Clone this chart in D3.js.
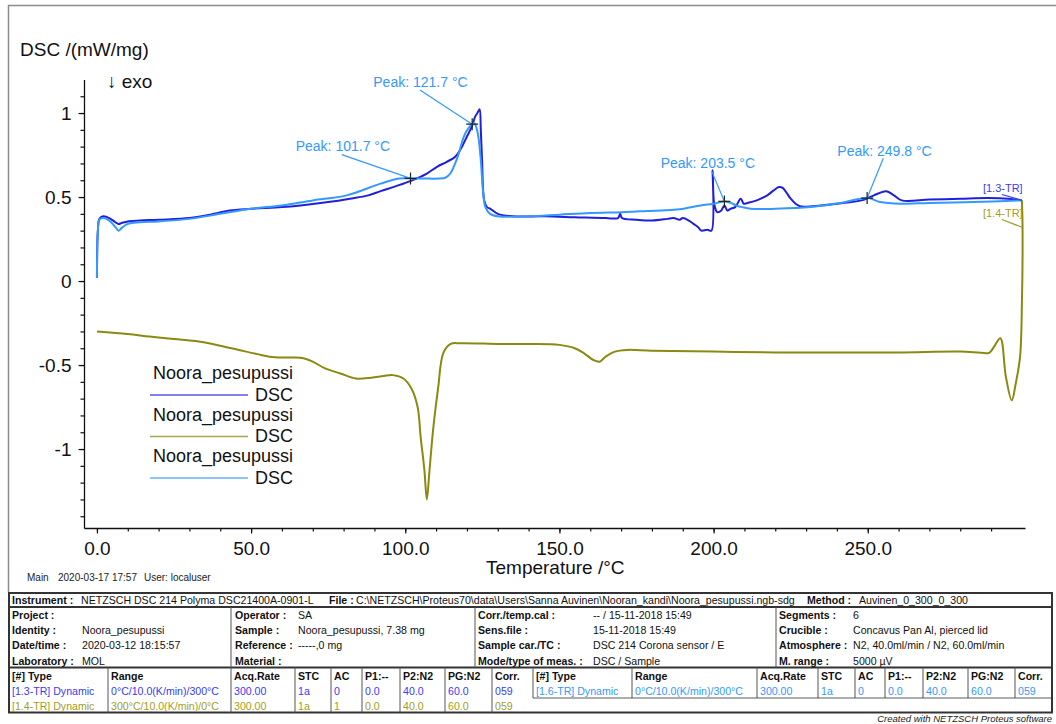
<!DOCTYPE html>
<html><head><meta charset="utf-8">
<script src="https://cdn.jsdelivr.net/npm/d3@7/dist/d3.min.js"></script>
<style>
body{margin:0;background:#fff;}
svg{display:block;font-family:"Liberation Sans",Arial,Helvetica,sans-serif;}
</style></head><body>
<svg id="c" width="1056" height="724"></svg>
<script>
// ---------------- DATA ----------------
// Segment 1.3-TR : heating 0 -> 300 °C (dark blue)
const heat1T = [0,0.3,0.8,2,4,6,7,8,10,14,20,30,38,43,50,60,66,75,82,88,92,97,101.6,107,110.3,113.5,116.2,118.4,120,121.6,122.7,123.4,124.1,124.5,124.9,125.6,126.5,127.6,130,135,145,155,165,169,169.7,170.3,175,180,185,187,189,190,192,193.5,195,196,198,199.3,199.7,200.2,201.2,202.5,203.5,204.5,205.5,207,208.8,209.8,211,214,217.4,219.5,221.2,222.4,225,226.6,228,232,240,248,250,252,256,258.5,261,270,280,289,295.5,300];
const heat1V = [0.02,0.30,0.37,0.385,0.375,0.35,0.34,0.345,0.355,0.36,0.365,0.375,0.40,0.42,0.43,0.44,0.45,0.47,0.49,0.51,0.535,0.565,0.595,0.64,0.68,0.71,0.74,0.80,0.86,0.92,0.98,1.00,1.022,0.90,0.72,0.48,0.44,0.43,0.40,0.385,0.385,0.38,0.375,0.375,0.40,0.375,0.365,0.36,0.37,0.375,0.365,0.375,0.36,0.34,0.32,0.30,0.305,0.30,0.66,0.46,0.41,0.42,0.45,0.42,0.43,0.44,0.49,0.46,0.465,0.48,0.51,0.54,0.56,0.555,0.49,0.46,0.445,0.445,0.46,0.48,0.494,0.51,0.535,0.51,0.48,0.485,0.49,0.494,0.49,0.48];

// Segment 1.4-TR : cooling 300 -> 0 °C (olive)
const coolT = [300,300.2,300,299.4,298,296.7,294.8,293,291,289.4,286.7,280,260,240,220,200,180,172,168,165,163,161,158,155,150,140,131,118,114.6,112.3,110.7,109,107.8,107,106.2,105,104,102,99.4,96,93,89,84,79,74,70,67,64,60,56,52,46,40,33,25,17,10,0];
const coolV = [0.48,0.32,-0.13,-0.45,-0.61,-0.71,-0.57,-0.34,-0.39,-0.427,-0.427,-0.42,-0.425,-0.425,-0.425,-0.42,-0.415,-0.41,-0.42,-0.45,-0.48,-0.47,-0.43,-0.40,-0.38,-0.375,-0.375,-0.37,-0.375,-0.43,-0.63,-0.89,-1.14,-1.30,-1.125,-0.93,-0.75,-0.64,-0.58,-0.56,-0.565,-0.575,-0.58,-0.55,-0.52,-0.48,-0.46,-0.455,-0.455,-0.45,-0.435,-0.41,-0.385,-0.36,-0.345,-0.33,-0.315,-0.30];

// Segment 1.6-TR : second heating 0 -> 300 °C (light blue)
const heat2T = [0,0.3,0.8,2,4,6,7,8,10,14,20,30,40,50,60,70,81,92,98,101.7,106,111,113,114.6,117,119,120.5,121.7,122.4,123.4,124.4,125.3,126,127.5,130,140,150,160,170,176,183,189,195.8,200,203.5,205.5,207.8,209.3,212,220,231.5,241,250,254,260.7,270,284,300];
const heat2V = [0.02,0.30,0.365,0.375,0.36,0.32,0.30,0.315,0.34,0.35,0.355,0.37,0.40,0.43,0.45,0.48,0.51,0.58,0.61,0.611,0.61,0.61,0.615,0.64,0.74,0.86,0.91,0.934,0.94,0.89,0.74,0.52,0.44,0.40,0.385,0.385,0.395,0.405,0.41,0.415,0.42,0.427,0.45,0.46,0.474,0.465,0.447,0.44,0.43,0.43,0.44,0.465,0.494,0.47,0.46,0.465,0.47,0.48];

// Peak annotations (on segment 1.6-TR)
const peakTemps  = [101.7, 121.7, 203.5, 249.8];
const peakValues = [0.611, 0.934, 0.474, 0.494];

// Axis ticks
const xMajorTicks = [0, 50, 100, 150, 200, 250];
const xTickLabels = ["0.0", "50.0", "100.0", "150.0", "200.0", "250.0"];
const yMajorTicks = [-1, -0.5, 0, 0.5, 1];
const yTickLabels = ["-1", "-0.5", "0", "0.5", "1"];

// Legend
const legendNames = ["Noora_pesupussi", "Noora_pesupussi", "Noora_pesupussi"];
const legendSignals = ["DSC", "DSC", "DSC"];

// Info table
const infoRow = [["Instrument :", "NETZSCH DSC 214 Polyma DSC21400A-0901-L"], ["File :", "C:\\NETZSCH\\Proteus70\\data\\Users\\Sanna Auvinen\\Nooran_kandi\\Noora_pesupussi.ngb-sdg"], ["Method :", "Auvinen_0_300_0_300"]];
const infoCol1 = [["Project :", ""], ["Identity :", "Noora_pesupussi"], ["Date/time :", "2020-03-12 18:15:57"], ["Laboratory :", "MOL"]];
const infoCol2 = [["Operator :", "SA"], ["Sample :", "Noora_pesupussi, 7.38 mg"], ["Reference :", "-----,0 mg"], ["Material :", ""]];
const infoCol3 = [["Corr./temp.cal :", "-- / 15-11-2018 15:49"], ["Sens.file :", "15-11-2018 15:49"], ["Sample car./TC :", "DSC 214 Corona sensor / E"], ["Mode/type of meas. :", "DSC / Sample"]];
const infoCol4 = [["Segments :", "6"], ["Crucible :", "Concavus Pan Al, pierced lid"], ["Atmosphere :", "N2, 40.0ml/min / N2, 60.0ml/min"], ["M. range :", "5000 µV"]];
const segHeader = ["[#] Type", "Range", "Acq.Rate", "STC", "AC", "P1:--", "P2:N2", "PG:N2", "Corr."];
const seg13 = ["[1.3-TR] Dynamic", "0°C/10.0(K/min)/300°C", "300.00", "1a", "0", "0.0", "40.0", "60.0", "059"];
const seg14 = ["[1.4-TR] Dynamic", "300°C/10.0(K/min)/0°C", "300.00", "1a", "1", "0.0", "40.0", "60.0", "059"];
const seg16 = ["[1.6-TR] Dynamic", "0°C/10.0(K/min)/300°C", "300.00", "1a", "0", "0.0", "40.0", "60.0", "059"];

// ---------------- DRAW ----------------
const C_DARK = "#1f1fdc", C_OLIVE = "#8a8a10", C_LIGHT = "#3399ff";
const C_DARK_T = "#3b3bf5", C_OLIVE_T = "#a39d24";
const svg = d3.select("#c");

// outer frame
svg.append("path").attr("d", "M8.5,592 V5.5 H1056").attr("fill", "none")
  .attr("stroke", "#8c8c8c").attr("stroke-width", 1.5);

const x = d3.scaleLinear().domain([-4.2, 301]).range([84, 1025]);
const y = d3.scaleLinear().domain([-1.47, 1.2]).range([528, 79.44]);

// y axis
const yMinor = d3.range(-14, 12).map(d => d / 10);
svg.append("g").attr("transform", "translate(84,0)")
  .call(d3.axisLeft(y).tickValues(yMinor).tickSize(3.5).tickFormat("").tickSizeOuter(0))
  .call(g => g.select(".domain").remove());
const yAx = svg.append("g").attr("transform", "translate(84,0)")
  .call(d3.axisLeft(y).tickValues(yMajorTicks).tickSize(5.5).tickPadding(7).tickSizeOuter(0)
    .tickFormat((d, i) => yTickLabels[i]));
yAx.selectAll("text").attr("font-size", 19).attr("fill", "#111").attr("font-family", null);
yAx.selectAll("line,path").attr("stroke", "#111").attr("stroke-width", 1.3);

// x axis
const xMinor = d3.range(0, 300, 10);
svg.append("g").attr("transform", "translate(0,528)")
  .call(d3.axisBottom(x).tickValues(xMinor).tickSize(3.5).tickFormat("").tickSizeOuter(0))
  .call(g => g.select(".domain").remove());
const xAx = svg.append("g").attr("transform", "translate(0,528)")
  .call(d3.axisBottom(x).tickValues(xMajorTicks).tickSize(5.5).tickPadding(8).tickSizeOuter(0)
    .tickFormat((d, i) => xTickLabels[i]));
xAx.selectAll("text").attr("font-size", 19).attr("fill", "#111").attr("font-family", null);
xAx.selectAll("line,path").attr("stroke", "#111").attr("stroke-width", 1.3);
svg.selectAll(".tick line").attr("stroke", "#111").attr("stroke-width", 1.2);

// axis titles
svg.append("text").attr("x", 20).attr("y", 56).attr("font-size", 19).attr("fill", "#111").text("DSC /(mW/mg)");
svg.append("text").attr("x", 107).attr("y", 88).attr("font-size", 19).attr("fill", "#111").text("↓ exo");
svg.append("text").attr("x", 486).attr("y", 574).attr("font-size", 19).attr("fill", "#111").text("Temperature /°C");

// curves
const line = d3.line().x(d => x(d[0])).y(d => y(d[1])).curve(d3.curveCatmullRom.alpha(0.5));
const series = [
  { t: heat1T, v: heat1V, c: C_DARK },
  { t: coolT, v: coolV, c: C_OLIVE },
  { t: heat2T, v: heat2V, c: C_LIGHT }
];
series.forEach(s => {
  svg.append("path").datum(s.t.map((t, i) => [t, s.v[i]]))
    .attr("d", line).attr("fill", "none").attr("stroke", s.c)
    .attr("stroke-width", 2).attr("stroke-linejoin", "round");
});

// peak annotations
const peakLayout = [
  { tx: -114.8, ty: -27.7, lx: -68.8, ly: -23.7 },
  { tx: -98.9, ty: -36.8, lx: -52.2, ly: -34.1 },
  { tx: -63.7, ty: -33.7, lx: -12.7, ly: -30.3 },
  { tx: -29.8, ty: -42, lx: 16.2, ly: -39.7 }
];
peakTemps.forEach((t, i) => {
  const px = x(t), py = y(peakValues[i]), L = peakLayout[i];
  svg.append("line").attr("x1", px + L.lx).attr("y1", py + L.ly).attr("x2", px).attr("y2", py)
    .attr("stroke", C_LIGHT).attr("stroke-width", 1.2);
  svg.append("path").attr("d", `M${px - 6},${py}H${px + 6}M${px},${py - 6}V${py + 6}`)
    .attr("stroke", "#222").attr("stroke-width", 1.2);
  svg.append("text").attr("x", px + L.tx).attr("y", py + L.ty).attr("font-size", 14)
    .attr("fill", C_LIGHT).text(`Peak: ${t.toFixed(1)} °C`);
});

// segment end labels
const endX = x(300);
[[seg13[0].slice(0, 8), C_DARK_T, 192, heat1V[heat1V.length - 1]], [seg14[0].slice(0, 8), C_OLIVE_T, 217, coolV[1]]].forEach(([lab, col, by, v]) => {
  svg.append("text").attr("x", endX - 39).attr("y", by).attr("font-size", 11).attr("fill", col).text(lab);
  svg.append("line").attr("x1", endX - 20).attr("y1", by + 2.5).attr("x2", endX).attr("y2", y(v))
    .attr("stroke", col).attr("stroke-width", 1.2);
});

// legend
const legColors = [C_DARK, C_OLIVE, C_LIGHT];
legendNames.forEach((n, i) => {
  const by = 379 + i * 41.5;
  svg.append("text").attr("x", 293).attr("y", by).attr("text-anchor", "end").attr("font-size", 18).attr("fill", "#111").text(n);
  svg.append("text").attr("x", 293).attr("y", by + 21.5).attr("text-anchor", "end").attr("font-size", 18).attr("fill", "#111").text(legendSignals[i]);
  svg.append("line").attr("x1", 150).attr("x2", 248).attr("y1", by + 16).attr("y2", by + 16)
    .attr("stroke", legColors[i]).attr("stroke-width", 1.5).attr("opacity", 0.75);
});

// footer line
[["Main", 27], ["2020-03-17 17:57", 58], ["User: localuser", 144]].forEach(([s, xx]) => {
  svg.append("text").attr("x", xx).attr("y", 581).attr("font-size", 10).attr("fill", "#222").text(s);
});

// ---------------- TABLE ----------------
const T = svg.append("g").attr("font-size", 10.6).attr("fill", "#111");
const hline = (y0, x0 = 9, x1 = 1052, w = 1) => T.append("line").attr("x1", x0).attr("x2", x1).attr("y1", y0).attr("y2", y0).attr("stroke", "#333").attr("stroke-width", w);
const vline = (x0, y0, y1, w = 1) => T.append("line").attr("x1", x0).attr("x2", x0).attr("y1", y0).attr("y2", y1).attr("stroke", "#555").attr("stroke-width", w);
T.append("rect").attr("x", 9).attr("y", 593).attr("width", 1043).attr("height", 119.5)
  .attr("fill", "none").attr("stroke", "#333").attr("stroke-width", 2);
hline(607, 9, 1052, 2);
hline(667.5, 9, 1052, 2);
[231, 475, 776].forEach(xx => vline(xx, 607, 667.5));
const segCols = [9, 108, 231, 295, 331, 362, 400, 445, 492, 533, 632, 757, 818, 855, 885, 923, 968, 1015];
segCols.slice(1).forEach((xx, i) => vline(xx, 667.5, i + 1 >= 9 ? 698 : 712.5));
hline(698, 533, 1052, 0.8);

const txt = (s, xx, yy, opt = {}) => T.append("text").attr("x", xx).attr("y", yy)
  .attr("font-weight", opt.b ? "bold" : null).attr("fill", opt.c || "#111").text(s);
// instrument row
const instX = [[12, 81], [329, 356], [807, 859]];
infoRow.forEach(([l, v], i) => { txt(l, instX[i][0], 604, { b: 1 }); txt(v, instX[i][1], 604); });
// block 2
const blkX = [[12, 82], [235, 298], [478, 593], [779, 853]];
[infoCol1, infoCol2, infoCol3, infoCol4].forEach((col, ci) => {
  col.forEach(([l, v], ri) => {
    const yy = 619 + ri * 15.2;
    txt(l, blkX[ci][0], yy, { b: 1 });
    if (v) txt(v, blkX[ci][1], yy);
  });
});
// segment table
const cellX = segCols.map(c => c + 3);
segHeader.forEach((h, i) => { txt(h, cellX[i], 680, { b: 1 }); txt(h, cellX[i + 9], 680, { b: 1 }); });
seg13.forEach((s, i) => txt(s, cellX[i], 694.5, { c: C_DARK_T }));
seg16.forEach((s, i) => txt(s, cellX[i + 9], 694.5, { c: C_LIGHT }));
seg14.forEach((s, i) => txt(s, cellX[i], 709.5, { c: C_OLIVE_T }));

svg.append("text").attr("x", 1052).attr("y", 722).attr("text-anchor", "end").attr("font-size", 9.5)
  .attr("font-style", "italic").attr("fill", "#222").text("Created with NETZSCH Proteus software");
</script>
</body></html>
